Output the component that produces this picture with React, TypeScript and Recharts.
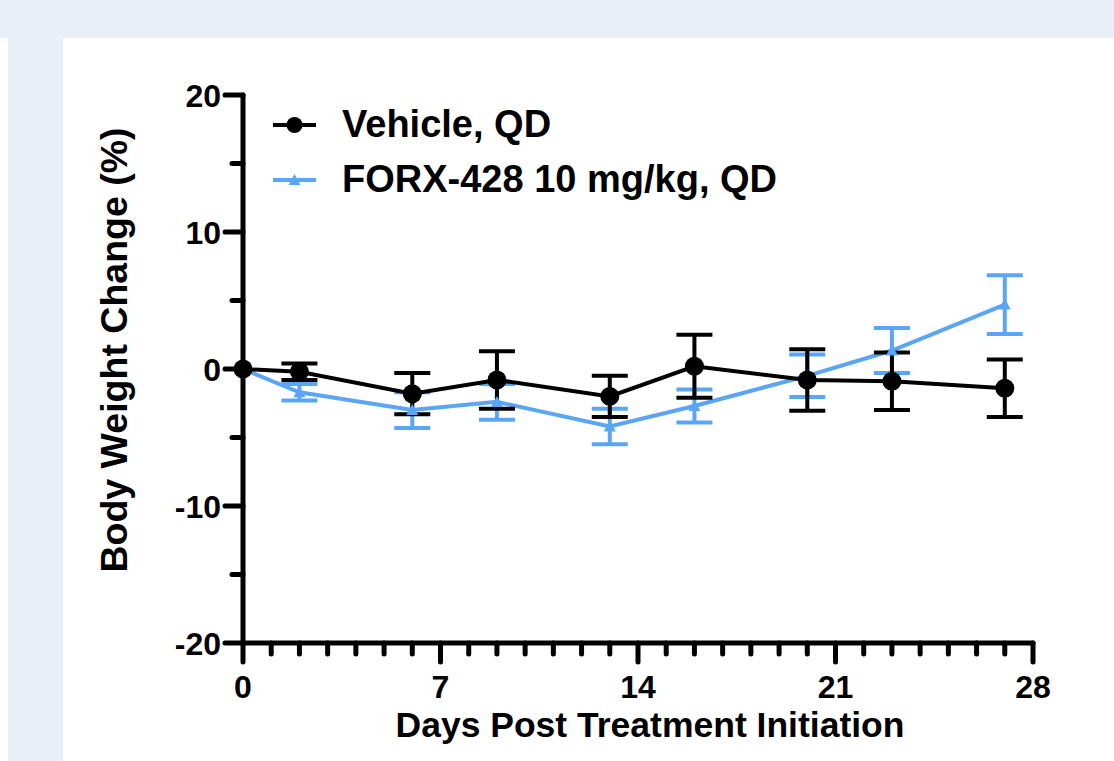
import React from 'react';
import { LineChart, Line, XAxis, YAxis, ErrorBar, Legend } from 'recharts';

const days = [0, 2, 6, 9, 13, 16, 20, 23, 27];
const vehicleMean = [0, -0.2, -1.8, -0.8, -2.0, 0.2, -0.8, -0.9, -1.4];
const vehicleErr = [0, 0.6, 1.5, 2.1, 1.5, 2.3, 2.25, 2.1, 2.1];
const forxMean = [0, -1.7, -3.0, -2.4, -4.2, -2.7, -0.5, 1.35, 4.7];
const forxErr = [0, 0.6, 1.3, 1.3, 1.3, 1.2, 1.55, 1.65, 2.15];
const yTicks = [-20, -15, -10, -5, 0, 5, 10, 15, 20];
const xTicks = Array.from({ length: 29 }, (_, i) => i);
const majorXLabels = [0, 7, 14, 21, 28];
const seriesNames = ['Vehicle, QD', 'FORX-428 10 mg/kg, QD'];

const BLUE = '#5aa5f6';
const FONT = '"Liberation Sans", Arial, Helvetica, sans-serif';

const data = days.map((d, i) => ({
  day: d,
  vehicle: vehicleMean[i],
  vehicleErr: vehicleErr[i],
  forx: forxMean[i],
  forxErr: forxErr[i],
}));

const YTick = (props: any) => {
  const { x, y, payload } = props;
  const major = payload.value % 10 === 0;
  return (
    <g>
      <line x1={x - (major ? 18 : 11)} x2={x} y1={y} y2={y} stroke="#000" strokeWidth={5} strokeLinecap="round" />
      {major && (
        <text x={x - 22} y={y} dy="0.36em" textAnchor="end" fontFamily={FONT} fontWeight="bold" fontSize={32} fill="#000">
          {payload.value}
        </text>
      )}
    </g>
  );
};

const XTick = (props: any) => {
  const { x, y, payload } = props;
  const major = majorXLabels.includes(payload.value);
  return (
    <g>
      <line x1={x} x2={x} y1={y} y2={y + (major ? 19 : 11)} stroke="#000" strokeWidth={5} strokeLinecap="round" />
      {major && (
        <text x={x} y={y + 55} textAnchor="middle" fontFamily={FONT} fontWeight="bold" fontSize={32} fill="#000">
          {payload.value}
        </text>
      )}
    </g>
  );
};

const Triangle = (props: any) => {
  const { cx, cy } = props;
  if (cx == null || cy == null) return null;
  return <path d={`M${cx},${cy - 6} L${cx + 6},${cy + 5} L${cx - 6},${cy + 5} Z`} fill={BLUE} />;
};

const Circle = (props: any) => {
  const { cx, cy } = props;
  if (cx == null || cy == null) return null;
  return <circle cx={cx} cy={cy} r={9.5} fill="#000" />;
};

const LegendContent = () => (
  <div style={{ fontFamily: FONT, fontWeight: 'bold', fontSize: 38, color: '#000' }}>
    {seriesNames.map((name, i) => (
      <div key={name} style={{ display: 'flex', alignItems: 'center', height: 55, whiteSpace: 'nowrap' }}>
        <svg width={62} height={30} style={{ marginRight: 10 }}>
          <line x1={3} x2={46} y1={15} y2={15} stroke={i === 0 ? '#000' : BLUE} strokeWidth={4} />
          {i === 0 ? (
            <circle cx={24.5} cy={15} r={8} fill="#000" />
          ) : (
            <path d="M24.5,9 L30.5,20 L18.5,20 Z" fill={BLUE} />
          )}
        </svg>
        <span>{name}</span>
      </div>
    ))}
  </div>
);

export default function App() {
  return (
    <div style={{ position: 'absolute', left: 0, top: 0, width: 1114, height: 761, background: '#fff', overflow: 'hidden' }}>
      <div style={{ position: 'absolute', left: 0, top: 0, width: 1114, height: 38, background: '#e9eef7' }} />
      <div style={{ position: 'absolute', left: 8, top: 38, width: 55, height: 723, background: '#e9eef7' }} />
      <div style={{ position: 'absolute', left: 0, top: 0 }}>
        <LineChart width={1114} height={761} data={data} margin={{ top: 95, right: 81, bottom: 0, left: 108 }}>
          <XAxis
            dataKey="day"
            type="number"
            domain={[0, 28]}
            ticks={xTicks}
            interval={0}
            height={118}
            tickSize={0}
            tickMargin={0}
            tick={<XTick />}
            axisLine={{ stroke: '#000', strokeWidth: 5, strokeLinecap: 'round' }}
            tickLine={false}
            label={(p: any) => {
              const vb = p.viewBox;
              return (
                <text x={vb.x + vb.width / 2 + 12} y={vb.y + 94} textAnchor="middle" fontFamily={FONT} fontWeight="bold" fontSize={35.5} fill="#000">
                  Days Post Treatment Initiation
                </text>
              );
            }}
          />
          <YAxis
            type="number"
            domain={[-20, 20]}
            ticks={yTicks}
            interval={0}
            width={135}
            tickSize={0}
            tickMargin={0}
            tick={<YTick />}
            axisLine={{ stroke: '#000', strokeWidth: 5, strokeLinecap: 'round' }}
            tickLine={false}
            label={(p: any) => {
              const vb = p.viewBox;
              const cx = vb.x + 19;
              const cy = vb.y + vb.height / 2 - 19;
              return (
                <text x={cx} y={cy} transform={`rotate(-90, ${cx}, ${cy})`} textAnchor="middle" fontFamily={FONT} fontWeight="bold" fontSize={37.5} fill="#000">
                  Body Weight Change (%)
                </text>
              );
            }}
          />
          <Legend
            layout="horizontal"
            verticalAlign="middle"
            align="center"
            content={<LegendContent />}
            wrapperStyle={{ top: 97, left: 270, width: 700, height: 110 }}
          />
          <Line
            type="linear"
            dataKey="forx"
            name={seriesNames[1]}
            stroke={BLUE}
            strokeWidth={4}
            dot={<Triangle />}
            activeDot={false}
            isAnimationActive={false}
          >
            <ErrorBar dataKey="forxErr" direction="y" width={18} stroke={BLUE} strokeWidth={4} />
          </Line>
          <Line
            type="linear"
            dataKey="vehicle"
            name={seriesNames[0]}
            stroke="#000"
            strokeWidth={4}
            dot={<Circle />}
            activeDot={false}
            isAnimationActive={false}
          >
            <ErrorBar dataKey="vehicleErr" direction="y" width={18} stroke="#000" strokeWidth={4} />
          </Line>
        </LineChart>
      </div>
    </div>
  );
}
